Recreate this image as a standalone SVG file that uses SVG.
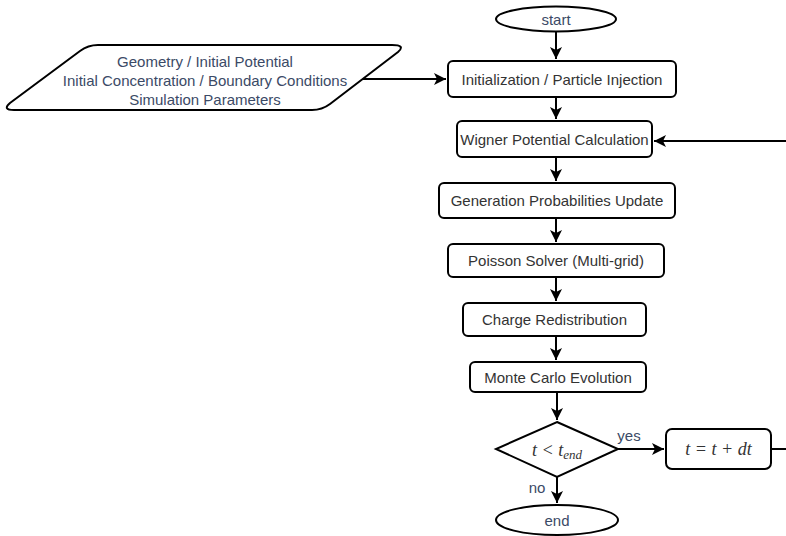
<svg xmlns="http://www.w3.org/2000/svg" width="786" height="536" viewBox="0 0 786 536">
<defs>
<style>
.n{fill:#fff;stroke:#000;stroke-width:2}
.t{font-family:"Liberation Sans",Arial,sans-serif;font-size:15px;fill:#333;text-anchor:middle;dominant-baseline:central}
.b{fill:#3b4a66}
.m{font-family:"Liberation Serif","Times New Roman",serif;font-style:italic;font-size:18px;fill:#333;text-anchor:middle;dominant-baseline:central}
.c{fill:none;stroke:#000;stroke-width:2}
</style>
</defs>
<rect width="786" height="536" fill="#fff"/>
<g id="connectors">
<path class="c" d="M556,31 V59"/>
<path class="c" d="M360,79 H446"/>
<path class="c" d="M556,97 V119"/>
<path class="c" d="M556,157 V181"/>
<path class="c" d="M556,218 V242"/>
<path class="c" d="M556,277 V301"/>
<path class="c" d="M556,336 V360"/>
<path class="c" d="M557,392 V420"/>
<path class="c" d="M618,449 H664"/>
<path class="c" d="M557,477 V503"/>
<path class="c" d="M771,449 H786 M786,141 H654"/>
<g fill="#000">
<path d="M446,79 l-12,-6 l3,6 l-3,6 z"/>
<path d="M556,59 l-6,-12 l6,3 l6,-3 z"/>
<path d="M556,119 l-6,-12 l6,3 l6,-3 z"/>
<path d="M556,181 l-6,-12 l6,3 l6,-3 z"/>
<path d="M556,242 l-6,-12 l6,3 l6,-3 z"/>
<path d="M556,301 l-6,-12 l6,3 l6,-3 z"/>
<path d="M556,360 l-6,-12 l6,3 l6,-3 z"/>
<path d="M557,420 l-6,-12 l6,3 l6,-3 z"/>
<path d="M557,503 l-6,-12 l6,3 l6,-3 z"/>
<path d="M664,449 l-12,-6 l3,6 l-3,6 z"/>
<path d="M654,141 l12,-6 l-3,6 l3,6 z"/>
</g>
<text class="t b" x="629" y="435">yes</text>
<text class="t b" x="537" y="487">no</text>
</g>
<g id="start">
<ellipse class="n" cx="556" cy="19" rx="60" ry="12.5"/>
<text class="t b" x="556" y="19">start</text>
</g>
<g id="input">
<path class="n" d="M98,45 H392 Q406,45 398,52 L330,104 Q322,110 312,110 H14 Q2,110 10,103 L80,51 Q88,45 98,45 Z"/>
<text class="t b" x="205" y="61">Geometry / Initial Potential</text>
<text class="t b" x="205" y="80">Initial Concentration / Boundary Conditions</text>
<text class="t b" x="205" y="99">Simulation Parameters</text>
</g>
<g id="init">
<rect class="n" x="448" y="61" width="228" height="36" rx="5"/>
<text class="t" x="562" y="79">Initialization / Particle Injection</text>
</g>
<g id="wigner">
<rect class="n" x="457" y="121" width="195" height="36" rx="5"/>
<text class="t" x="554.5" y="139">Wigner Potential Calculation</text>
</g>
<g id="generation">
<rect class="n" x="439" y="183" width="236" height="35" rx="5"/>
<text class="t" x="557" y="200.5">Generation Probabilities Update</text>
</g>
<g id="poisson">
<rect class="n" x="448" y="244" width="216" height="33" rx="5"/>
<text class="t" x="556" y="260.5">Poisson Solver (Multi-grid)</text>
</g>
<g id="charge">
<rect class="n" x="463" y="303" width="183" height="33" rx="5"/>
<text class="t" x="554.5" y="319.5">Charge Redistribution</text>
</g>
<g id="montecarlo">
<rect class="n" x="470" y="362" width="176" height="30" rx="5"/>
<text class="t" x="558" y="377">Monte Carlo Evolution</text>
</g>
<g id="decision">
<path class="n" d="M557,422 L618,449 L557,477 L496,449 Z"/>
<text class="m" x="557" y="450">t &lt; t<tspan font-size="13" dy="4">end</tspan></text>
</g>
<g id="step">
<rect class="n" x="666" y="429" width="105" height="40" rx="6"/>
<text class="m" x="718.5" y="449">t = t + dt</text>
</g>
<g id="end">
<ellipse class="n" cx="557" cy="520" rx="61" ry="15"/>
<text class="t b" x="557" y="520">end</text>
</g>
</svg>
